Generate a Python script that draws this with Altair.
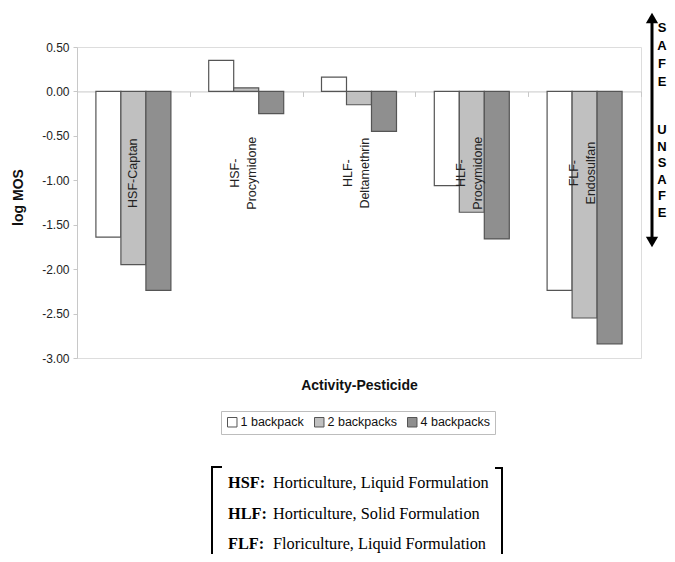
import altair as alt
import pandas as pd

categories = ["HSF-Captan", "HSF-Procymidone", "HLF-Deltamethrin", "HLF-Procymidone", "FLF-Endosulfan"]
cat_labels = ["HSF-Captan", "HSF-\nProcymidone", "HLF-\nDeltamethrin", "HLF-\nProcymidone", "FLF-\nEndosulfan"]
series = ["1 backpack", "2 backpacks", "4 backpacks"]
one_backpack = [-1.64, 0.35, 0.16, -1.06, -2.24]
two_backpacks = [-1.95, 0.04, -0.15, -1.36, -2.55]
four_backpacks = [-2.24, -0.25, -0.45, -1.66, -2.84]
y_ticks = [-3.0, -2.5, -2.0, -1.5, -1.0, -0.5, 0.0, 0.5]
codes = ["HSF:", "HLF:", "FLF:"]
descriptions = ["Horticulture, Liquid Formulation", "Horticulture, Solid Formulation", "Floriculture, Liquid Formulation"]

rows = []
for s, vals in zip(series, [one_backpack, two_backpacks, four_backpacks]):
    for c, v in zip(categories, vals):
        rows.append({"cat": c, "series": s, "value": v})
df = pd.DataFrame(rows)
lab_df = pd.DataFrame({"cat": categories, "label": cat_labels})
one = pd.DataFrame({"k": [0]})

W, H = 564, 311
zero_from_bottom = H * 3.0 / 3.5

x_scale = alt.Scale(domain=categories, paddingInner=0, paddingOuter=0)
y_scale = alt.Scale(domain=[-3, 0.5], nice=False, zero=False)

bars = alt.Chart(df).mark_bar(stroke="#555555", strokeWidth=1.2).encode(
    x=alt.X("cat:N", scale=x_scale, sort=categories,
            axis=alt.Axis(labels=False, title="Activity-Pesticide", offset=-zero_from_bottom,
                          domainColor="#c8c8c8", tickColor="#c8c8c8", tickSize=5, tickBand="extent",
                          titleFontSize=14, titleFontWeight="bold", titleColor="#111",
                          titleY=294, titleBaseline="middle", titleFont="Liberation Sans")),
    xOffset=alt.XOffset("series:N", sort=series, scale=alt.Scale(paddingOuter=0.756, paddingInner=0)),
    y=alt.Y("value:Q", scale=y_scale,
            axis=alt.Axis(values=y_ticks, title="log MOS", grid=False,
                          labelExpr="replace(format(datum.value, '.2f'), '\u2212', '-')",
                          domainColor="#c8c8c8", tickColor="#c8c8c8", tickSize=4, labelPadding=4,
                          labelFontSize=12, labelColor="#222", labelFont="Liberation Sans",
                          titleFontSize=14, titleFontWeight="bold", titleColor="#111",
                          titleFont="Liberation Sans", titlePadding=16, titleY=150)),
    color=alt.Color("series:N", sort=series,
                    scale=alt.Scale(domain=series, range=["#ffffff", "#c0c0c0", "#8f8f8f"]),
                    legend=alt.Legend(title=None, orient="none", legendX=144, legendY=364,
                                      direction="horizontal", strokeColor="#bdbdbd", padding=5,
                                      symbolType="square", symbolSize=90, symbolStrokeColor="#555555",
                                      symbolStrokeWidth=1, labelFontSize=12.5, labelColor="#111",
                                      labelFont="Liberation Sans", columnPadding=8, labelOffset=2,
                                      fillColor="white")),
)

label_base = alt.Chart(lab_df).encode(
    x=alt.X("cat:N", scale=x_scale, sort=categories),
    y=alt.datum(-0.92),
    text="label:N",
)
labels_single = label_base.mark_text(angle=270, align="center", baseline="middle", fontSize=12.5,
                                     lineBreak="\n", lineHeight=17, color="#222",
                                     font="Liberation Sans").transform_filter("indexof(datum.label, '\\n') < 0")
labels_multi = label_base.mark_text(angle=270, align="center", baseline="middle", fontSize=12.5,
                                    lineBreak="\n", lineHeight=17, color="#222", dy=-11,
                                    font="Liberation Sans").transform_filter("indexof(datum.label, '\\n') >= 0")

AX = 575
arrow_line = alt.Chart(one).mark_rule(strokeWidth=3, color="black").encode(
    x=alt.value(AX), y=alt.value(-29), y2=alt.value(195))
arrow_up = alt.Chart(one).mark_point(shape="triangle-up", filled=True, size=150, color="black", opacity=1).encode(
    x=alt.value(AX), y=alt.value(-29))
arrow_down = alt.Chart(one).mark_point(shape="triangle-down", filled=True, size=150, color="black", opacity=1).encode(
    x=alt.value(AX), y=alt.value(195))
safe_txt = alt.Chart(one).mark_text(text=["S", "A", "F", "E"], lineHeight=18, fontSize=13, fontWeight="bold",
                                    baseline="middle", align="center", font="Liberation Sans").encode(
    x=alt.value(585), y=alt.value(-19))
unsafe_txt = alt.Chart(one).mark_text(text=["U", "N", "S", "A", "F", "E"], lineHeight=16.6, fontSize=13,
                                      fontWeight="bold", baseline="middle", align="center",
                                      font="Liberation Sans").encode(
    x=alt.value(585), y=alt.value(83))

code_txt = alt.Chart(one).mark_text(text=codes, lineHeight=30.5, fontSize=16.3, fontWeight="bold",
                                    baseline="middle", align="left", font="Liberation Serif",
                                    color="black").encode(
    x=alt.value(151), y=alt.value(436))
desc_txt = alt.Chart(one).mark_text(text=descriptions, lineHeight=30.5, fontSize=16.3,
                                    baseline="middle", align="left", font="Liberation Serif",
                                    color="black").encode(
    x=alt.value(196), y=alt.value(436))

br_left = alt.Chart(one).mark_rule(strokeWidth=2, color="black").encode(
    x=alt.value(135), y=alt.value(420), y2=alt.value(520))
br_left_hook = alt.Chart(one).mark_rule(strokeWidth=2, color="black").encode(
    x=alt.value(134), x2=alt.value(145), y=alt.value(420))
br_right = alt.Chart(one).mark_rule(strokeWidth=2, color="black").encode(
    x=alt.value(425), y=alt.value(421), y2=alt.value(520))
br_right_hook = alt.Chart(one).mark_rule(strokeWidth=2, color="black").encode(
    x=alt.value(418), x2=alt.value(426), y=alt.value(421))

chart = alt.layer(
    bars, labels_single, labels_multi, arrow_line, arrow_up, arrow_down, safe_txt, unsafe_txt,
    code_txt, desc_txt, br_left, br_left_hook, br_right, br_right_hook
).properties(
    width=W, height=H,
    autosize=alt.AutoSizeParams(type="none"),
    padding={"left": 69, "top": 39, "right": 26, "bottom": 196},
).configure_view(stroke=None).configure(background="white")

chart.save("out.html", embed_options={"renderer": "svg", "actions": False})
